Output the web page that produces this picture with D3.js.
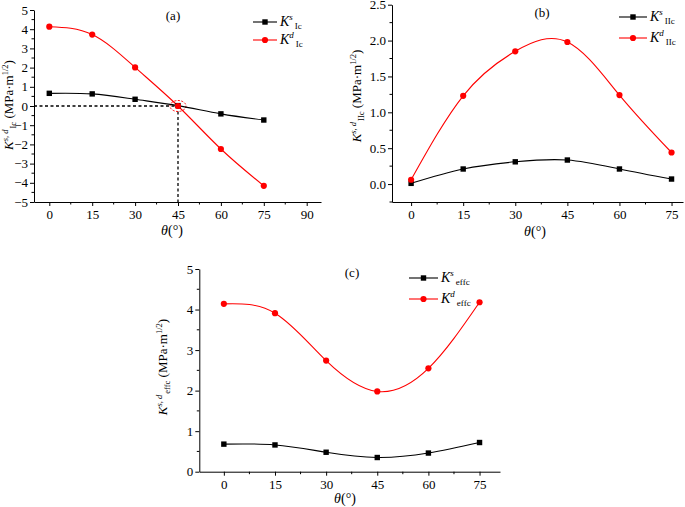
<!DOCTYPE html>
<html><head><meta charset="utf-8">
<script src="https://cdn.jsdelivr.net/npm/d3@7"></script>
<style>
body{margin:0;background:#fff;}
svg{display:block;}
svg text{font-family:"Liberation Serif","Times New Roman",Tinos,serif;}
</style></head>
<body><svg id="c" width="685" height="507"></svg>
<script>
const angles = [0, 15, 30, 45, 60, 75];
const ksIc = [0.66, 0.63, 0.35, 0.02, -0.41, -0.73];
const kdIc = [4.13, 3.72, 2.01, 0.0, -2.24, -4.16];
const ksIIc = [0.01, 0.21, 0.31, 0.335, 0.21, 0.07];
const kdIIc = [0.06, 1.23, 1.85, 1.98, 1.24, 0.44];
const ksEffc = [0.68, 0.66, 0.48, 0.35, 0.46, 0.72];
const kdEffc = [4.14, 3.91, 2.74, 1.98, 2.55, 4.18];
const xTicksA = [0, 15, 30, 45, 60, 75, 90];
const xTicksBC = [0, 15, 30, 45, 60, 75];
const yTicksA = [-5, -4, -3, -2, -1, 0, 1, 2, 3, 4, 5];
const yTicksB = [0.0, 0.5, 1.0, 1.5, 2.0, 2.5];
const yTicksC = [0, 1, 2, 3, 4, 5];

const svg = d3.select("#c");
const FONT = '"Liberation Serif","Times New Roman",Tinos,serif';

function panel(cfg){
  const g = svg.append("g");
  const x = d3.scaleLinear().domain(cfg.xd).range(cfg.xr);
  const y = d3.scaleLinear().domain(cfg.yd).range(cfg.yr);
  const y0 = cfg.yr[0], x0 = cfg.xr[0];
  const xMinor = d3.range(-7.5, cfg.xd[1]+0.001, 15).filter(v => v>=cfg.xd[0] && v<=cfg.xd[1]);
  const yMinor = d3.range(Math.ceil(cfg.yd[0]/cfg.yMinor)*cfg.yMinor, cfg.yd[1]+1e-6, cfg.yMinor)
     .filter(v => !cfg.yTicks.some(t => Math.abs(t-v)<1e-6));
  const xa = d3.axisBottom(x).tickValues(cfg.xTicks).tickSize(4).tickSizeOuter(0).tickPadding(4).tickFormat(d3.format("d"));
  const gx = g.append("g").attr("transform",`translate(0,${y0})`).call(xa);
  gx.selectAll("line.minor").data(xMinor).enter().append("line").attr("class","minor")
    .attr("x1",d=>x(d)).attr("x2",d=>x(d)).attr("y1",0).attr("y2",2.5).attr("stroke","#000");
  const ya = d3.axisLeft(y).tickValues(cfg.yTicks).tickSize(4).tickSizeOuter(0).tickPadding(2).tickFormat(cfg.yFmt);
  const gy = g.append("g").attr("transform",`translate(${x0},0)`).call(ya);
  gy.selectAll("line.minor").data(yMinor).enter().append("line").attr("class","minor")
    .attr("x1",0).attr("x2",-2.5).attr("y1",d=>y(d)).attr("y2",d=>y(d)).attr("stroke","#000");
  [gx,gy].forEach(a=>{
    a.attr("font-family",FONT).attr("font-size",13);
    a.selectAll("text").attr("fill","#000");
    a.select(".domain").attr("stroke","#000");
  });
  if (cfg.extra) cfg.extra(g, x, y);
  const line = d3.line().x((d,i)=>x(angles[i])).y(d=>y(d)).curve(d3.curveNatural);
  const series = [
    {vals: cfg.s, color:"#000", shape:"sq"},
    {vals: cfg.d, color:"#f00", shape:"ci"}
  ];
  series.forEach(s=>{
    g.append("path").attr("d", line(s.vals)).attr("fill","none").attr("stroke",s.color).attr("stroke-width",1.1);
  });
  series.forEach(s=>{
    s.vals.forEach((v,i)=>{
      if (s.shape==="sq") g.append("rect").attr("x",x(angles[i])-2.7).attr("y",y(v)-2.7).attr("width",5.4).attr("height",5.4).attr("fill",s.color);
      else g.append("circle").attr("cx",x(angles[i])).attr("cy",y(v)).attr("r",3.1).attr("fill",s.color);
    });
  });
  g.append("text").attr("x",cfg.lab[0]).attr("y",cfg.lab[1]).attr("text-anchor","middle").attr("font-size",13).text(cfg.label);
  const lg = cfg.leg;
  series.forEach((s,i)=>{
    const ly = lg.y + i*lg.dy;
    g.append("line").attr("x1",lg.x).attr("x2",lg.x+lg.w).attr("y1",ly).attr("y2",ly).attr("stroke",s.color).attr("stroke-width",1.1);
    if (s.shape==="sq") g.append("rect").attr("x",lg.x+lg.w/2-2.7).attr("y",ly-2.7).attr("width",5.4).attr("height",5.4).attr("fill",s.color);
    else g.append("circle").attr("cx",lg.x+lg.w/2).attr("cy",ly).attr("r",3.1).attr("fill",s.color);
    const t = g.append("text").attr("x",lg.x+lg.w+3).attr("y",ly+4).attr("font-size",14);
    t.append("tspan").attr("font-style","italic").text("K");
    t.append("tspan").attr("font-style","italic").attr("font-size",9).attr("dy",-6).text(i===0?"s":"d");
    t.append("tspan").attr("font-size",9).attr("dy",9).attr("dx",2).text(cfg.sub);
  });
  const xt = g.append("text").attr("x",cfg.xt[0]).attr("y",cfg.xt[1]).attr("text-anchor","middle").attr("font-size",14);
  xt.append("tspan").attr("font-style","italic").text("θ");
  xt.append("tspan").text("(°)");
  const yt = g.append("text").attr("transform",`translate(${cfg.yt[0]},${cfg.yt[1]}) rotate(-90)`).attr("text-anchor","middle").attr("font-size",13);
  yt.append("tspan").attr("font-style","italic").text("K");
  yt.append("tspan").attr("font-style","italic").attr("font-size",8.5).attr("dy",-5).text("s, d");
  yt.append("tspan").attr("font-size",8.5).attr("dy",8).attr("dx",1).text(cfg.sub);
  yt.append("tspan").attr("dy",-3).text(" (MPa·m");
  yt.append("tspan").attr("font-size",8.5).attr("dy",-5).text("1/2");
  yt.append("tspan").attr("dy",5).text(")");
}

panel({
  xd:[-5.35,95], xr:[34,321], yd:[-5,5], yr:[202,10],
  xTicks:xTicksA, yTicks:yTicksA, yMinor:0.5, yFmt:d3.format("d"),
  s:ksIc, d:kdIc, sub:"Ic", label:"(a)", lab:[173,20],
  leg:{x:253,y:22,dy:18,w:24}, xt:[172,235], yt:[13,105],
  extra:(g,x,y)=>{
    g.append("line").attr("x1",x(-5.35)).attr("x2",x(45)).attr("y1",y(0)).attr("y2",y(0))
      .attr("stroke","#000").attr("stroke-width",1.3).attr("stroke-dasharray","3,2.5");
    g.append("line").attr("x1",x(45)).attr("x2",x(45)).attr("y1",y(0)).attr("y2",y(-5))
      .attr("stroke","#000").attr("stroke-width",1.3).attr("stroke-dasharray","3,2.5");
    g.append("ellipse").attr("cx",x(45)).attr("cy",y(0)).attr("rx",8).attr("ry",5.5)
      .attr("fill","none").attr("stroke","#f00").attr("stroke-width",1).attr("stroke-dasharray","2,1.5");
  }
});
panel({
  xd:[-5.5,78.3], xr:[392,683], yd:[-0.25,2.5], yr:[202,4.7],
  xTicks:xTicksBC, yTicks:yTicksB, yMinor:0.25, yFmt:d3.format(".1f"),
  s:ksIIc, d:kdIIc, sub:"IIc", label:"(b)", lab:[542,17],
  leg:{x:619,y:17,dy:21,w:28}, xt:[535,236], yt:[361,96]
});
panel({
  xd:[-7.2,81], xr:[199.3,500], yd:[0,5], yr:[471.7,269],
  xTicks:xTicksBC, yTicks:yTicksC, yMinor:0.5, yFmt:d3.format("d"),
  s:ksEffc, d:kdEffc, sub:"effc", label:"(c)", lab:[352,277],
  leg:{x:409,y:278,dy:21,w:29}, xt:[345,503], yt:[167,367]
});
</script></body></html>
